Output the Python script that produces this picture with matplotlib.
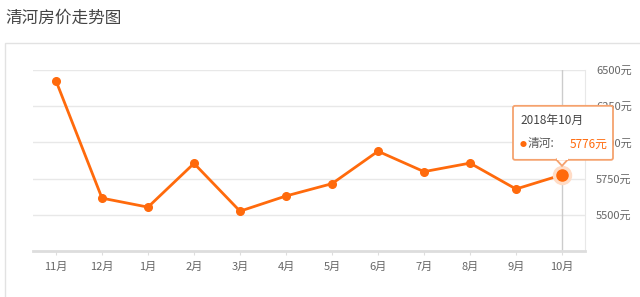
import matplotlib
matplotlib.use('Agg')
from matplotlib import pyplot as plt
from matplotlib.patches import Rectangle, Polygon, FancyBboxPatch
from matplotlib.transforms import Affine2D

plt.rcParams['font.family'] = ['Noto Sans CJK SC', 'DejaVu Sans']

months = ['11月', '12月', '1月', '2月', '3月', '4月', '5月', '6月', '7月', '8月', '9月', '10月']
prices = [6425, 5615, 5553, 5855, 5525, 5630, 5715, 5939, 5798, 5857, 5678, 5776]
y_ticks = [5500, 5750, 6000, 6250, 6500]
tip_title = '2018年10月'
series_name = '清河'

orange = '#ff6a0c'
grid_c = '#e8e8e8'
text_c = '#666666'

fig = plt.figure(figsize=(6.4, 2.97), dpi=100)
W, H = 640, 297

fig.text(5 / W, 1 - 18 / H, '清河房价走势图', fontsize=12, color='#444444', va='center', ha='left')
# outer panel
fig.patches.append(Rectangle((5 / W, -0.1), 1.0, 1 - 43 / H + 0.1, transform=fig.transFigure,
                             fill=False, edgecolor='#e2e2e2', linewidth=1))

ax = fig.add_axes([33 / W, 46 / H, (585 - 33) / W, (251 - 70) / H])
x = list(range(len(months)))
ax.set_xlim(-0.5, len(months) - 0.5)
ax.set_ylim(5250, 6500)

for t in y_ticks:
    ax.axhline(t, color=grid_c, linewidth=1, zorder=1)
ax.axvline(x[-1], color='#cccccc', linewidth=1, zorder=1)

ax.plot(x, prices, color=orange, linewidth=2, marker='o', markersize=5.5, zorder=4)
ax.plot(x[-1], prices[-1], 'o', color='#ffdcc6', markersize=13, zorder=4)
ax.plot(x[-1], prices[-1], 'o', color=orange, markersize=8, zorder=5)

for s in ['top', 'left']:
    ax.spines[s].set_visible(False)
ax.spines['right'].set_color(grid_c)
ax.spines['bottom'].set_color('#dddddd')
ax.spines['bottom'].set_linewidth(2)

ax.set_xticks(x)
ax.set_xticklabels(months)
ax.set_yticks(y_ticks)
ax.set_yticklabels([f'{t}元' for t in y_ticks])
ax.yaxis.tick_right()
ax.tick_params(axis='y', length=0, pad=8, labelsize=8, labelcolor=text_c)
ax.tick_params(axis='x', length=3, color='#dddddd', pad=5, labelsize=8, labelcolor=text_c)

# tooltip, placed in pixel offsets from the last point
px, py = x[-1], prices[-1]
fig.canvas.draw()
tr = Affine2D().translate(*ax.transData.transform((px, py)))
box = FancyBboxPatch((-49, 15), 100, 54, boxstyle='round,pad=0,rounding_size=2', transform=tr,
                     facecolor='white', edgecolor='#f5a26e', linewidth=1.3, zorder=10, clip_on=False)
ax.add_artist(box)
tri = Polygon([(-6, 15.5), (6, 15.5), (0, 9)], closed=True, transform=tr,
              facecolor='white', edgecolor='#f5a26e', linewidth=1.3, zorder=11, clip_on=False)
ax.add_artist(tri)
cover = Rectangle((-5.5, 14.5), 11, 2, transform=tr, facecolor='white', edgecolor='none',
                  zorder=12, clip_on=False)
ax.add_artist(cover)

ax.annotate(tip_title, (px, py), xytext=(-42, 54), textcoords='offset pixels',
            fontsize=8.5, color='#444444', va='center', ha='left', zorder=13, annotation_clip=False)
ax.annotate('●', (px, py), xytext=(-42, 30), textcoords='offset pixels',
            fontsize=5, color=orange, va='center', ha='left', zorder=13, annotation_clip=False)
ax.annotate(series_name + ':', (px, py), xytext=(-34, 31), textcoords='offset pixels',
            fontsize=8.5, color='#555555', va='center', ha='left', zorder=13, annotation_clip=False)
ax.annotate(f'{prices[-1]}元', (px, py), xytext=(8, 31), textcoords='offset pixels',
            fontsize=8.5, color=orange, va='center', ha='left', zorder=13, annotation_clip=False)

fig.savefig('out.png', dpi=100)
